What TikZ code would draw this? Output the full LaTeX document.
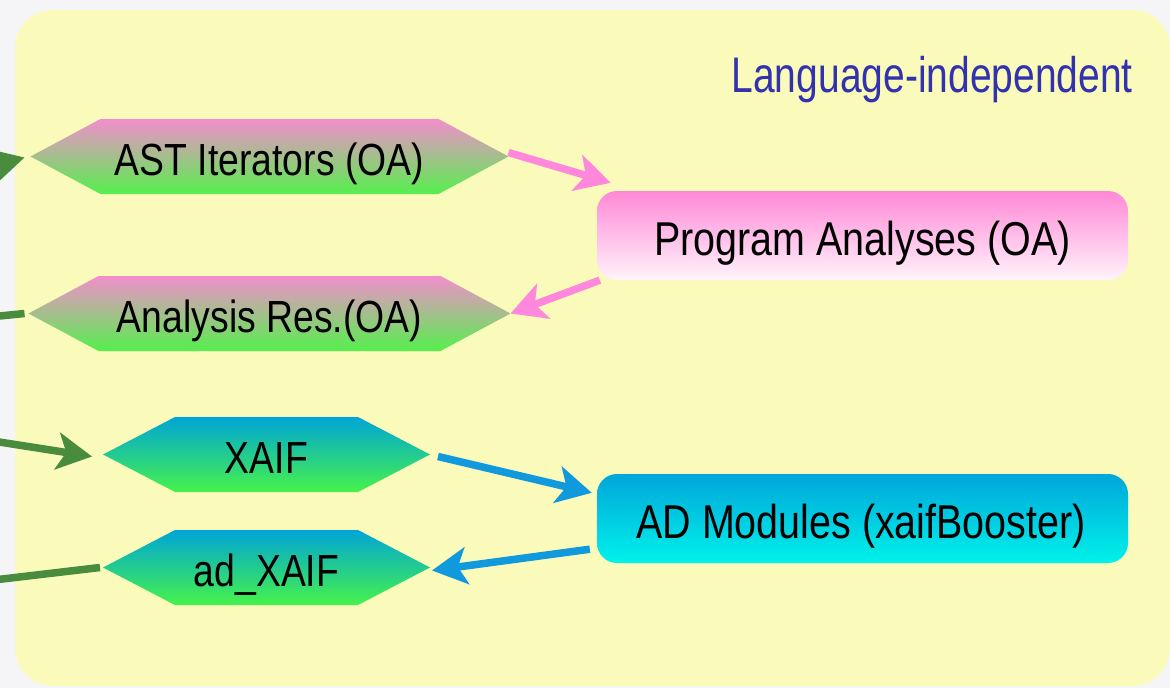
\documentclass[tikz,border=0pt]{standalone}
\usepackage{fontspec}
\setmainfont{Liberation Sans}[FakeStretch=0.83]
\newfontfamily\titlefont{Liberation Sans}[FakeStretch=0.78]
\usetikzlibrary{arrows.meta,calc}
\definecolor{bgout}{HTML}{F5F5F7}
\definecolor{panel}{HTML}{FAFABB}
\definecolor{hexpink}{HTML}{F28ECC}
\definecolor{hexgreen}{HTML}{55F04C}
\definecolor{hexblue}{HTML}{00A5D6}
\definecolor{hexgreenb}{HTML}{46F24A}
\definecolor{boxpinktop}{HTML}{FF88D6}
\definecolor{boxpinkbot}{HTML}{FFF4FB}
\definecolor{boxbluetop}{HTML}{00A6DA}
\definecolor{boxbluebot}{HTML}{00F2EA}
\definecolor{arrgreen}{HTML}{4A8C3E}
\definecolor{arrpink}{HTML}{FF88DD}
\definecolor{arrblue}{HTML}{1199DD}
\definecolor{titleblue}{HTML}{3232AE}
\tikzset{
  hexlabel/.style={inner sep=0pt,anchor=base,font=\fontsize{45}{50}\selectfont},
  boxnode/.style={rounded corners=20pt,minimum width=531pt,minimum height=89pt,inner sep=0pt},
  boxlabel/.style={inner sep=0pt,anchor=base,font=\fontsize{47.5}{52}\selectfont},
  conn/.style={line width=7.5pt,-{Stealth[length=35pt,width=37pt,inset=9pt]}},
  connplain/.style={line width=7.5pt},
}
\newcommand{\hexa}[8]{%
  \shade[top color=#6,bottom color=#7] ({#2-#4-#5},#3) -- ({#2-#4},{#3-37.5}) -- ({#2+#4},{#3-37.5}) -- ({#2+#4+#5},#3) -- ({#2+#4},{#3+37.5}) -- ({#2-#4},{#3+37.5}) -- cycle;
  \node[hexlabel] (#1) at (#2,{#3+18.5}) {#8};
  \coordinate (#1-w) at ({#2-#4-#5},#3);
  \coordinate (#1-e) at ({#2+#4+#5},#3);
}
\begin{document}
\begin{tikzpicture}[x=1pt,y=-1pt]
  \useasboundingbox (0,0) rectangle (1170,688);
  \fill[bgout] (0,0) rectangle (1170,688);
  \fill[panel,rounded corners=38pt] (15,10) rectangle (1170,686);
  \node[anchor=base east,inner sep=0pt,text=titleblue,font=\titlefont\fontsize{50}{55}\selectfont] (title) at (1133,92.3) {Language-independent};

  \hexa{ast}{269.5}{156.5}{169}{70}{hexpink}{hexgreen}{AST Iterators (OA)}
  \hexa{res}{269.5}{313.5}{171}{70}{hexpink}{hexgreen}{Analysis Res.(OA)}
  \hexa{xaif}{266.5}{454.5}{91.5}{72}{hexblue}{hexgreenb}{XAIF}
  \hexa{adx}{266.5}{567.5}{91.5}{72}{hexblue}{hexgreenb}{ad\_XAIF}

  \node[boxnode,top color=boxpinktop,bottom color=boxpinkbot] (pa) at (862.5,235.5) {};
  \node[boxlabel] (palabel) at (862.5,255) {Program Analyses (OA)};
  \node[boxnode,top color=boxbluetop,bottom color=boxbluebot] (ad) at (862.5,518.5) {};
  \node[boxlabel] (adlabel) at (861,538) {AD Modules (xaifBooster)};

  \coordinate (g1) at (-60,180);
  \coordinate (g2) at (-60,322);
  \coordinate (g3) at (-20,439);
  \coordinate (g4) at (-40,584);

  \draw[conn,arrgreen] (g1) -- ($(ast-w)+(-6,1)$);
  \draw[connplain,arrgreen] ($(res-w)+(-4,0)$) -- (g2);
  \draw[conn,arrgreen] (g3) -- ($(xaif-w)+(-11,2)$);
  \draw[connplain,arrgreen] ($(adx-w)+(-3,0)$) -- (g4);

  \draw[conn,arrpink] ($(ast-e)+(0,-4)$) -- ($(pa.north west)+(14,-8)$);
  \draw[conn,arrpink] ($(pa.south west)+(3,0)$) -- ($(res-e)+(0,0)$);
  \draw[conn,arrblue] ($(xaif-e)+(8,2)$) -- ($(ad.north west)+(-5,19)$);
  \draw[conn,arrblue] ($(ad.south west)+(-7,-14)$) -- ($(adx-e)+(2,3)$);
\end{tikzpicture}
\end{document}
